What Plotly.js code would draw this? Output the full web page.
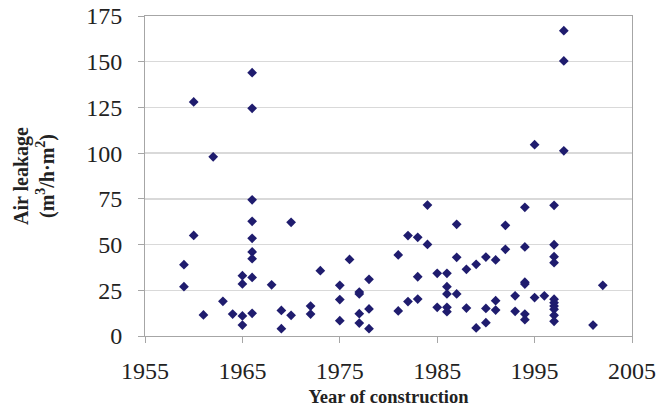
<!DOCTYPE html>
<html>
<head>
<meta charset="utf-8">
<script src="https://cdn.plot.ly/plotly-3.0.1.min.js"></script>
<style>html,body{margin:0;padding:0;background:#fff;}#chart{width:662px;height:411px;}</style>
</head>
<body>
<div id="chart"></div>
<script>
// Year of construction
const years = [
  1959, 1959,
  1960, 1960,
  1961,
  1962,
  1963,
  1964,
  1965, 1965, 1965, 1965,
  1966, 1966, 1966, 1966, 1966, 1966, 1966, 1966, 1966,
  1968,
  1969, 1969,
  1970, 1970,
  1972, 1972,
  1973,
  1975, 1975, 1975,
  1976,
  1977, 1977, 1977, 1977,
  1978, 1978, 1978,
  1981, 1981,
  1982, 1982,
  1983, 1983, 1983,
  1984, 1984,
  1985, 1985,
  1986, 1986, 1986, 1986, 1986,
  1987, 1987, 1987,
  1988, 1988,
  1989, 1989,
  1990, 1990, 1990,
  1991, 1991, 1991,
  1992, 1992,
  1993, 1993,
  1994, 1994, 1994, 1994, 1994, 1994,
  1995, 1995,
  1996,
  1997, 1997, 1997, 1997, 1997, 1997, 1997, 1997, 1997, 1997,
  1998, 1998, 1998,
  2001,
  2002
];
// Air leakage (m3/h.m2)
const leakage = [
  39, 27,
  128, 55,
  11.5,
  98,
  19,
  12,
  33, 28.5, 11, 6,
  144, 124.5, 74.5, 62.7, 53.4, 46, 42.3, 32, 12.4,
  28,
  14, 4,
  62.2, 11.3,
  16.4, 12,
  35.7,
  27.7, 19.9, 8.4,
  41.9,
  24, 23, 12.2, 7.1,
  31, 14.8, 4,
  44.3, 13.7,
  54.9, 18.8,
  54, 32.4, 20.2,
  71.6, 50.1,
  34.3, 15.7,
  34.3, 27, 23, 15.7, 13.3,
  61.1, 43, 23,
  36.5, 15.3,
  39.2, 4.4,
  43.2, 15.1, 7.3,
  41.6, 19.3, 14.2,
  60.5, 47.4,
  22, 13.5,
  70.4, 48.7, 29.4, 28.4, 12, 8.9,
  104.6, 21,
  22,
  71.5, 49.9, 43.4, 40.1, 20.1, 18.2, 16.4, 14.6, 11.3, 8,
  167, 150.4, 101.3,
  6,
  27.7
];
const xTicks = [1955, 1965, 1975, 1985, 1995, 2005];
const yTicks = [0, 25, 50, 75, 100, 125, 150, 175];

const serif = "Liberation Serif, Times New Roman, serif";

Plotly.newPlot('chart', [{
  type: 'scatter',
  mode: 'markers',
  x: years,
  y: leakage,
  marker: {symbol: 'diamond', size: 7.5, color: '#1f1c6e'},
  hoverinfo: 'x+y'
}], {
  width: 662, height: 411,
  margin: {l: 145, r: 30, t: 16, b: 75},
  paper_bgcolor: '#fff', plot_bgcolor: '#fff',
  showlegend: false,
  font: {family: serif, color: '#222'},
  xaxis: {
    range: [1955, 2005],
    tickvals: xTicks,
    ticktext: xTicks.map(String),
    showgrid: false, zeroline: false,
    showline: true, mirror: true, linecolor: '#a6a6a6', linewidth: 1,
    ticks: 'outside', ticklen: 6, tickcolor: '#a6a6a6',
    tickfont: {family: serif, size: 24, color: '#222'},
    ticklabelstandoff: 7,
    title: {text: '<b>Year of construction</b>', font: {family: serif, size: 18.5, color: '#222'}, standoff: 7}
  },
  yaxis: {
    range: [0, 175],
    tickvals: yTicks,
    ticktext: yTicks.map(String),
    showgrid: true, gridcolor: '#d9d9d9', gridwidth: 1.5, zeroline: false,
    showline: true, mirror: true, linecolor: '#a6a6a6', linewidth: 1,
    ticks: 'outside', ticklen: 6, tickcolor: '#a6a6a6',
    tickfont: {family: serif, size: 24, color: '#222'},
    ticklabelstandoff: 11,
    title: {text: '<b>Air leakage<br>(m<sup>3</sup>/h·m<sup>2</sup>)</b>', font: {family: serif, size: 20, color: '#222'}, standoff: 26}
  }
}, {displayModeBar: false, staticPlot: true});
</script>
</body>
</html>
